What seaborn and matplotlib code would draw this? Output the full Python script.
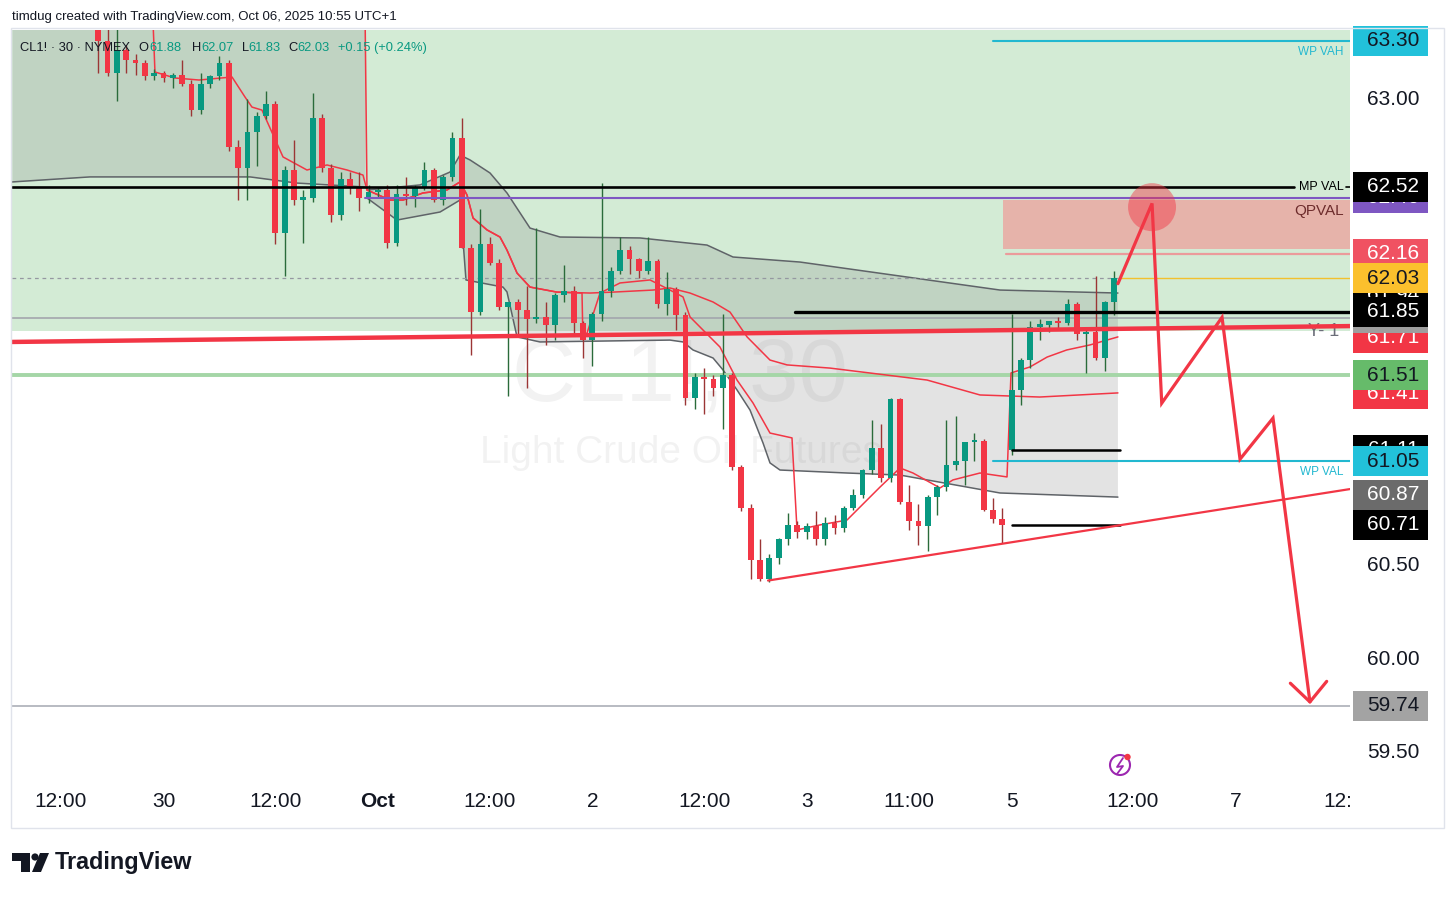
import numpy as np
import matplotlib
matplotlib.use("Agg")
import matplotlib.pyplot as plt
import seaborn as sns
from matplotlib.patches import Rectangle, Circle, Polygon
from matplotlib.transforms import blended_transform_factory

# ---------------- candle data (hourly bars; index 0 = Sep 29 morning) ----------------
bar_open = [63.50, 63.55, 63.62, 63.52, 63.48, 63.56, 63.50, 63.44, 63.47,
            63.45, 63.30, 63.13, 63.25, 63.20, 63.18, 63.11, 63.13, 63.10, 63.12,
            63.07, 62.93, 63.07, 63.11, 63.18, 62.73, 62.62, 62.81, 62.90, 62.96,
            62.27, 62.61, 62.45, 62.46, 62.89, 62.62, 62.37, 62.56, 62.51, 62.46,
            62.49, 62.50, 62.22, 62.48, 62.47, 62.51, 62.61, 62.45, 62.57, 62.78,
            62.19, 61.85, 62.21, 62.11, 61.875, 61.90, 61.86, 61.81, 61.82, 61.78,
            61.94, 61.96, 61.79, 61.70, 61.84, 61.96, 62.07, 62.18, 62.13, 62.07,
            62.12, 61.89, 61.97, 61.83, 61.39, 61.50, 61.49, 61.44, 61.51, 61.02,
            60.80, 60.52, 60.42, 60.53, 60.63, 60.71, 60.67, 60.70, 60.63, 60.72,
            60.69, 60.80, 60.87, 61.00, 61.12, 60.96, 61.38, 60.83, 60.73, 60.70,
            60.86, 60.91, 61.03, 61.05, 61.15, 61.16, 60.79, 60.74, 61.11, 61.43,
            61.59, 61.77, 61.78, 61.80, 61.79, 61.89, 61.73, 61.74, 61.60, 61.90]
bar_close = [63.55, 63.62, 63.52, 63.48, 63.56, 63.50, 63.44, 63.47, 63.45,
             63.30, 63.13, 63.25, 63.20, 63.18, 63.11, 63.13, 63.10, 63.12, 63.07,
             62.93, 63.07, 63.11, 63.18, 62.73, 62.62, 62.81, 62.90, 62.96, 62.27,
             62.61, 62.45, 62.46, 62.89, 62.62, 62.37, 62.56, 62.51, 62.46, 62.49,
             62.50, 62.22, 62.48, 62.47, 62.51, 62.61, 62.45, 62.57, 62.78, 62.19,
             61.85, 62.21, 62.11, 61.875, 61.90, 61.86, 61.81, 61.82, 61.78, 61.94,
             61.96, 61.79, 61.70, 61.84, 61.96, 62.07, 62.18, 62.13, 62.07, 62.12,
             61.89, 61.97, 61.83, 61.39, 61.50, 61.49, 61.44, 61.51, 61.02, 60.80,
             60.52, 60.42, 60.53, 60.63, 60.71, 60.67, 60.70, 60.63, 60.72, 60.69,
             60.80, 60.87, 61.00, 61.12, 60.96, 61.38, 60.83, 60.73, 60.70, 60.86,
             60.91, 61.03, 61.05, 61.15, 61.16, 60.79, 60.74, 60.71, 61.43, 61.59,
             61.77, 61.78, 61.80, 61.79, 61.89, 61.73, 61.74, 61.60, 61.90, 62.03]
bar_high = [63.60, 63.66, 63.65, 63.58, 63.60, 63.60, 63.54, 63.52, 63.52,
            63.50, 63.38, 63.37, 63.28, 63.23, 63.20, 63.15, 63.14, 63.13, 63.20,
            63.09, 63.13, 63.12, 63.22, 63.20, 62.77, 62.99, 62.92, 63.03, 62.98,
            62.63, 62.77, 62.50, 63.02, 62.91, 62.64, 62.60, 62.60, 62.60, 62.53,
            62.52, 62.53, 62.53, 62.57, 62.53, 62.65, 62.62, 62.58, 62.81, 62.89,
            62.21, 62.40, 62.25, 62.13, 61.90, 61.92, 61.99, 62.30, 61.90, 61.95,
            62.10, 61.99, 61.80, 61.85, 62.54, 62.09, 62.25, 62.20, 62.14, 62.25,
            62.13, 62.06, 61.98, 61.85, 61.52, 61.55, 61.51, 61.84, 61.52, 61.03,
            60.82, 60.63, 60.55, 60.64, 60.77, 60.73, 60.72, 60.78, 60.75, 60.76,
            60.81, 60.90, 61.01, 61.27, 61.25, 61.39, 61.39, 60.92, 60.82, 60.87,
            60.92, 61.27, 61.29, 61.15, 61.20, 61.17, 60.85, 60.80, 61.84, 61.60,
            61.80, 61.81, 61.80, 61.82, 61.92, 61.90, 61.76, 62.04, 61.91, 62.07]
bar_low = [63.46, 63.50, 63.48, 63.42, 63.44, 63.45, 63.40, 63.40, 63.40,
           63.13, 63.11, 62.98, 63.13, 63.12, 63.09, 63.09, 63.08, 63.05, 63.06,
           62.90, 62.91, 63.05, 63.09, 62.71, 62.45, 62.45, 62.63, 62.88, 62.21,
           62.04, 62.42, 62.22, 62.44, 62.60, 62.33, 62.34, 62.48, 62.39, 62.43,
           62.46, 62.19, 62.20, 62.42, 62.41, 62.50, 62.44, 62.42, 62.55, 62.19,
           61.62, 61.83, 62.10, 61.86, 61.40, 61.73, 61.44, 61.79, 61.67, 61.70,
           61.90, 61.73, 61.60, 61.56, 61.80, 61.93, 62.05, 62.05, 62.03, 62.05,
           61.87, 61.83, 61.75, 61.35, 61.33, 61.30, 61.40, 61.22, 61.00, 60.78,
           60.42, 60.41, 60.40, 60.50, 60.60, 60.64, 60.63, 60.60, 60.60, 60.66,
           60.67, 60.79, 60.85, 60.98, 60.94, 60.94, 60.82, 60.68, 60.60, 60.57,
           60.76, 60.89, 61.00, 60.92, 61.05, 60.78, 60.72, 60.61, 61.08, 61.35,
           61.55, 61.70, 61.74, 61.76, 61.78, 61.70, 61.52, 61.59, 61.53, 61.83]

# ---------------- indicator lines ----------------
dvwap_x = [-0.26, 14.8, 15.08, 17.2, 19.8, 23.35, 24.74, 25.49, 26.56, 28.82, 31.39, 33.54, 35.69, 37.4,
           37.83, 40.30, 41.69, 43.84, 46.41, 47.81, 48.56, 49.21, 50.71, 52.10, 52.85, 53.93, 55.32, 58.21, 60.9,
           61.0, 61.44, 62.83, 64.98, 68.2, 70.34, 71.74, 72.49, 73.88, 75.7, 77.53, 79.25, 81.07, 83.43,
           83.97, 86.44, 89.33, 92.88, 95.02, 96.41, 99.31, 100.7, 103.6, 106.5,
           106.93, 108.96, 110.8, 112.9, 115.4, 118.4]
dvwap_p = [63.50, 63.50, 63.134, 63.102, 63.091, 63.107, 63.0, 62.946, 62.930, 62.679, 62.609, 62.636, 62.609, 62.582,
           62.502, 62.448, 62.448, 62.486, 62.502, 62.545, 62.475, 62.352, 62.288, 62.250, 62.180, 62.057, 61.982, 61.955, 61.950,
           61.70, 61.736, 61.950, 62.004, 62.020, 61.966, 61.929, 61.822, 61.752, 61.661, 61.484, 61.361, 61.200, 61.174,
           60.681, 60.708, 60.734, 60.911, 61.013, 60.986, 60.906, 60.949, 60.986, 60.965,
           61.522, 61.554, 61.607, 61.645, 61.672, 61.715]
mvwap_x = [-0.26, 37.6, 37.83, 40.30, 41.69, 43.84, 46.41, 47.81, 48.56, 49.21, 50.71, 52.10, 52.85, 53.93,
           55.32, 58.21, 61.76, 64.23, 68.52, 70.34, 72.49, 74.96, 76.78, 78.61, 81.07, 82.90, 87.51, 97.92,
           103.6, 110.0, 118.4]
mvwap_p = [63.55, 63.55, 62.502, 62.448, 62.448, 62.486, 62.502, 62.545, 62.475, 62.352, 62.288, 62.250, 62.180, 62.057,
           61.982, 61.955, 61.950, 61.955, 61.966, 61.977, 61.950, 61.902, 61.848, 61.715, 61.591, 61.565, 61.548, 61.484,
           61.404, 61.393, 61.415]
band_up_x = [37.83, 43.52, 46.74, 47.81, 48.88, 51.03, 52.85, 55.32, 58.54, 67.12, 74.31, 77.1, 84.29, 95.02, 105.75, 118.4]
band_up_p = [62.502, 62.529, 62.598, 62.689, 62.663, 62.593, 62.486, 62.298, 62.250, 62.245, 62.207, 62.143, 62.116,
             62.041, 61.966, 61.950]
band_lo_x = [37.83, 41.05, 45.67, 47.81, 48.45, 52.42, 52.85, 53.93, 56.39, 70.34, 71.74, 72.81, 74.96, 76.03, 77.53,
             78.93, 80.32, 81.07, 82.14, 89.33, 95.02, 105.75, 118.4]
band_lo_p = [62.459, 62.341, 62.384, 62.448, 62.020, 61.982, 61.956, 61.715, 61.688, 61.698, 61.688, 61.645, 61.602,
             61.538, 61.431, 61.323, 61.147, 61.040, 61.002, 60.986, 60.975, 60.879, 60.857]
sep_band_lo_x = [-0.26, 8.11, 25.28, 30.32, 37.62]
sep_band_lo_p = [62.545, 62.572, 62.572, 62.539, 62.518]
sep_band_up = 63.6

# ---------------- drawings / levels ----------------
mpval = 62.52
qpval_top, qpval_bot, qpval_line = 62.45, 62.185, 62.16
qpval_start = 106.07
purple_level, purple_start = 62.46, 37.6
last_price = 62.03
yearly_level = 61.816
black_level, black_start = 61.85, 83.76
green_level = 61.51
short_levels = [61.11, 60.71]
short_x = [107.0, 118.6]
wp_vah, wp_val, wp_start = 63.30, 61.05, 105.0
gray_low = 59.74
green_box_bottom = 61.747
big_trend_x, big_trend_p = [-0.26, 143.3], [61.688, 61.773]
low_trend_x, low_trend_p = [80.86, 143.3], [60.41, 60.90]
zig_x = [118.4, 122.06, 123.1, 129.57, 131.5, 135.04, 139.0]
zig_p = [62.00, 62.43, 61.36, 61.82, 61.06, 61.28, 59.76]
head_x = [136.9, 139.0, 140.8]
head_p = [59.86, 59.76, 59.87]
circle_x, circle_p = 122.06, 62.41

price_boxes = [  # text, price, background, text colour (draw order)
    ("63.30", 63.30, "#22c1da", "#131722"),
    ("62.46", 62.46, "#7e57c2", "white"),
    ("62.52", 62.52, "#000000", "white"),
    ("62.16", 62.16, "#f05262", "white"),
    ("61.94", 61.94, "#000000", "white"),
    ("62.03", 62.03, "#fbc02d", "#131722"),
    ("61.71", 61.71, "#f23645", "white"),
    ("61.82", 61.816, "#9e9e9e", "white"),
    ("61.85", 61.85, "#000000", "white"),
    ("61.41", 61.41, "#f23645", "white"),
    ("61.51", 61.51, "#66bb6a", "#131722"),
    ("61.11", 61.11, "#000000", "white"),
    ("61.05", 61.05, "#22c1da", "#131722"),
    ("60.87", 60.87, "#6b6b6b", "white"),
    ("60.71", 60.71, "#000000", "white"),
    ("59.74", 59.74, "#a3a3a3", "#131722"),
]
price_ticks = [59.5, 60.0, 60.5, 63.0]
time_tick_idx = [5, 16, 28, 39, 51, 62, 74, 85, 96, 107, 120, 131]
time_tick_lab = ["12:00", "30", "12:00", "Oct", "12:00", "2", "12:00", "3", "11:00", "5", "12:00", "7"]

# ---------------- figure ----------------
sns.set_theme(style="white")
plt.rcParams['font.family'] = ['Liberation Sans', 'DejaVu Sans']
TXT = "#131722"
W, H = 1456, 897
AX_L, AX_R, AX_T, AX_B = 12, 1350, 30, 783
X0, X1 = -0.2575, 143.30
Y0, Y1 = 59.3256, 63.3589
fig = plt.figure(figsize=(W / 100, H / 100), dpi=100)
fig.patch.set_facecolor("white")
ax = fig.add_axes([AX_L / W, 1 - AX_B / H, (AX_R - AX_L) / W, (AX_B - AX_T) / H])
ax.set_facecolor("white")
ax.set_xlim(X0, X1)
ax.set_ylim(Y0, Y1)
for s in ax.spines.values():
    s.set_visible(False)
ax.grid(False)
PPU = (AX_B - AX_T) / (Y1 - Y0)
AXW = AX_R - AX_L

# background range box
ax.add_patch(Rectangle((X0, green_box_bottom), X1 - X0, Y1 - green_box_bottom, facecolor="#d3ebd5",
                       edgecolor="none", zorder=0))
# watermark
ax.text(71.4, 61.495, "CL1!, 30", fontsize=64, color="black", alpha=0.05, ha="center", va="center", zorder=0.5)
ax.text(71.5, 61.093, "Light Crude Oil Futures", fontsize=28, color="black", alpha=0.05, ha="center",
        va="center", zorder=0.5)

# VWAP bands
ax.fill_between(sep_band_lo_x, sep_band_lo_p, sep_band_up, color="#808080", alpha=0.22, lw=0, zorder=1)
poly = list(zip(band_up_x, band_up_p)) + list(zip(band_lo_x[::-1], band_lo_p[::-1]))
ax.add_patch(Polygon(poly, closed=True, facecolor="#808080", alpha=0.22, edgecolor="none", zorder=1))
for bx, bp in [(sep_band_lo_x, sep_band_lo_p), (band_up_x, band_up_p), (band_lo_x, band_lo_p)]:
    sns.lineplot(x=bx, y=bp, ax=ax, color="#5f6368", lw=1.1, estimator=None, sort=False, zorder=1.5)

# QPVAL zone
ax.add_patch(Rectangle((qpval_start, qpval_bot), X1 - qpval_start, qpval_top - qpval_bot,
                       facecolor="#e6b3aa", edgecolor="none", zorder=1.2))
ax.plot([qpval_start + 0.3, X1], [qpval_line, qpval_line], color="#eb9b9b", lw=1.6, zorder=1.3)

# levels under candles
ax.plot([X0, X1], [green_level, green_level], color="#a5d6a7", lw=2.8, zorder=2, solid_capstyle="butt")
ax.plot([X0, X1], [yearly_level, yearly_level], color="#a3a6ad", lw=1.2, zorder=2)
ax.plot([X0, X1], [gray_low, gray_low], color="#b8bbc2", lw=1.4, zorder=2)
ax.plot([X0, 118.5], [last_price, last_price], color="#9598a1", lw=0.9, ls=(0, (3, 3)), zorder=2)
ax.plot([118.5, X1], [last_price, last_price], color="#f2c12e", lw=1.0, zorder=2)

# VWAP lines
sns.lineplot(x=mvwap_x, y=mvwap_p, ax=ax, color="#f23645", lw=1.1, estimator=None, sort=False, zorder=2.5)
sns.lineplot(x=dvwap_x, y=dvwap_p, ax=ax, color="#f23645", lw=1.1, estimator=None, sort=False, zorder=2.5)

# candles
idx = np.arange(len(bar_close))
o = np.array(bar_open); c = np.array(bar_close); hi = np.array(bar_high); lo = np.array(bar_low)
up = c >= o
wick_cols = np.where(up, "#2a6b3a", "#9b3535")
body_cols = np.where(up, "#089981", "#f23645")
ax.vlines(idx, lo, hi, colors=wick_cols, lw=1.0, zorder=2.9)
ax.bar(idx, np.maximum(np.abs(c - o), 0.012), bottom=np.minimum(o, c), width=0.62, color=body_cols,
       edgecolor="none", zorder=3)

# levels over candles
ax.plot([X0, 137.3], [mpval, mpval], color="black", lw=1.9, zorder=4)
ax.plot([142.9, X1], [mpval, mpval], color="black", lw=1.2, zorder=4)
ax.text(142.6, mpval, "MP VAL", fontsize=9, color="black", ha="right", va="center", zorder=4)
ax.plot([purple_start, X1], [purple_level, purple_level], color="#7e57c2", lw=1.5, zorder=4)
ax.text(142.6, 62.389, "QPVAL", fontsize=11, color="#6d2c2c", ha="right", va="center", zorder=4)
ax.plot([black_start, X1], [black_level, black_level], color="black", lw=2.4, zorder=4)
ax.text(142.2, 61.742, "Y- 1", fontsize=13, color="#6a6d78", ha="right", va="center", zorder=4)
for lv in short_levels:
    ax.plot(short_x, [lv, lv], color="black", lw=1.8, zorder=4)
for lv, lab, ly in [(wp_vah, "WP VAH", 63.241), (wp_val, "WP VAL", 60.991)]:
    ax.plot([wp_start, X1], [lv, lv], color="#22b8d0", lw=1.5, zorder=4)
    ax.text(142.6, ly, lab, fontsize=8.5, color="#22b8d0", ha="right", va="center", zorder=4)

# trend lines & projection
ax.plot(big_trend_x, big_trend_p, color="#f23645", lw=3.2, zorder=4.5, solid_capstyle="butt")
ax.plot(low_trend_x, low_trend_p, color="#f23645", lw=1.6, zorder=4.5)
ax.plot(zig_x, zig_p, color="#f23645", lw=2.3, zorder=5, solid_joinstyle="miter")
ax.plot(head_x, head_p, color="#f23645", lw=2.3, zorder=5)
ax.scatter([circle_x], [circle_p], s=(48 * 0.72) ** 2, color="#f23645", alpha=0.46, edgecolors="none", zorder=5)

# axes ticks
ax.yaxis.tick_right()
ax.set_yticks(price_ticks)
ax.set_yticklabels([f"{v:.2f}" for v in price_ticks])
ax.tick_params(axis="y", length=0, pad=12.2, labelsize=15, colors=TXT)
ax.set_xticks(time_tick_idx)
ax.set_xticklabels(time_tick_lab)
ax.tick_params(axis="x", length=0, pad=6.5, labelsize=15, colors=TXT)
for t in ax.get_xticklabels():
    if t.get_text() == "Oct":
        t.set_fontweight("bold")
bxt = blended_transform_factory(ax.transData, ax.transAxes)
ax.text(140.4, -(801 - AX_B) / (AX_B - AX_T), "12:", transform=bxt, fontsize=15, color=TXT,
        ha="left", va="center", clip_on=False)

# price label boxes
bt = blended_transform_factory(ax.transAxes, ax.transData)
bh = 30 / PPU
for k, (txt, p, bg, fg) in enumerate(price_boxes):
    ax.add_patch(Rectangle(((1353 - AX_L) / AXW, p - bh / 2), 75 / AXW, bh, transform=bt, facecolor=bg,
                           edgecolor="none", clip_on=False, zorder=20 + 2 * k))
    ax.text((1393 - AX_L) / AXW, p, txt, transform=bt, ha="center", va="center", fontsize=15, color=fg,
            clip_on=False, zorder=21 + 2 * k)

# ---------------- overlay (pixel coordinates) ----------------
ov = fig.add_axes([0, 0, 1, 1])
ov.set_xlim(0, W); ov.set_ylim(H, 0); ov.axis("off"); ov.patch.set_alpha(0); ov.set_zorder(5)
ov.add_patch(Rectangle((11, 28), 1433, 800, fill=False, edgecolor="#e0e3eb", lw=1))
ov.text(12, 17, "timdug created with TradingView.com, Oct 06, 2025 10:55 UTC+1", fontsize=9.5, color=TXT,
        va="center", ha="left")
legend_parts = [(20, "CL1! · 30 · NYMEX", TXT), (138, "O", TXT), (149, "61.88", "#089981"),
                (192, "H", TXT), (201, "62.07", "#089981"), (242, "L", TXT), (248, "61.83", "#089981"),
                (288, "C", TXT), (297, "62.03", "#089981"), (338, "+0.15 (+0.24%)", "#089981")]
for lx, lt, lc in legend_parts:
    ov.text(lx, 48, lt, fontsize=9.3, color=lc, va="center", ha="left")
# TradingView logo
ov.add_patch(Polygon([(12, 853), (30, 853), (30, 872), (21, 872), (21, 861), (12, 861)], closed=True,
                     facecolor=TXT, edgecolor="none"))
ov.add_patch(Circle((35, 857), 3.6, facecolor=TXT, edgecolor="none"))
ov.add_patch(Polygon([(40, 853), (49, 853), (41, 872), (32, 872)], closed=True, facecolor=TXT, edgecolor="none"))
ov.text(55, 862, "TradingView", fontsize=16.8, fontweight="bold", color=TXT, va="center", ha="left")
# lightning icon
ov.add_patch(Circle((1120, 765), 10, fill=False, edgecolor="#9c27b0", lw=1.5))
ov.plot([1123, 1117, 1123, 1117], [758, 767, 766, 774], color="#9c27b0", lw=1.3)
ov.add_patch(Circle((1127.5, 757), 3.2, facecolor="#f23645", edgecolor="none"))

fig.savefig("out.png", dpi=100)
